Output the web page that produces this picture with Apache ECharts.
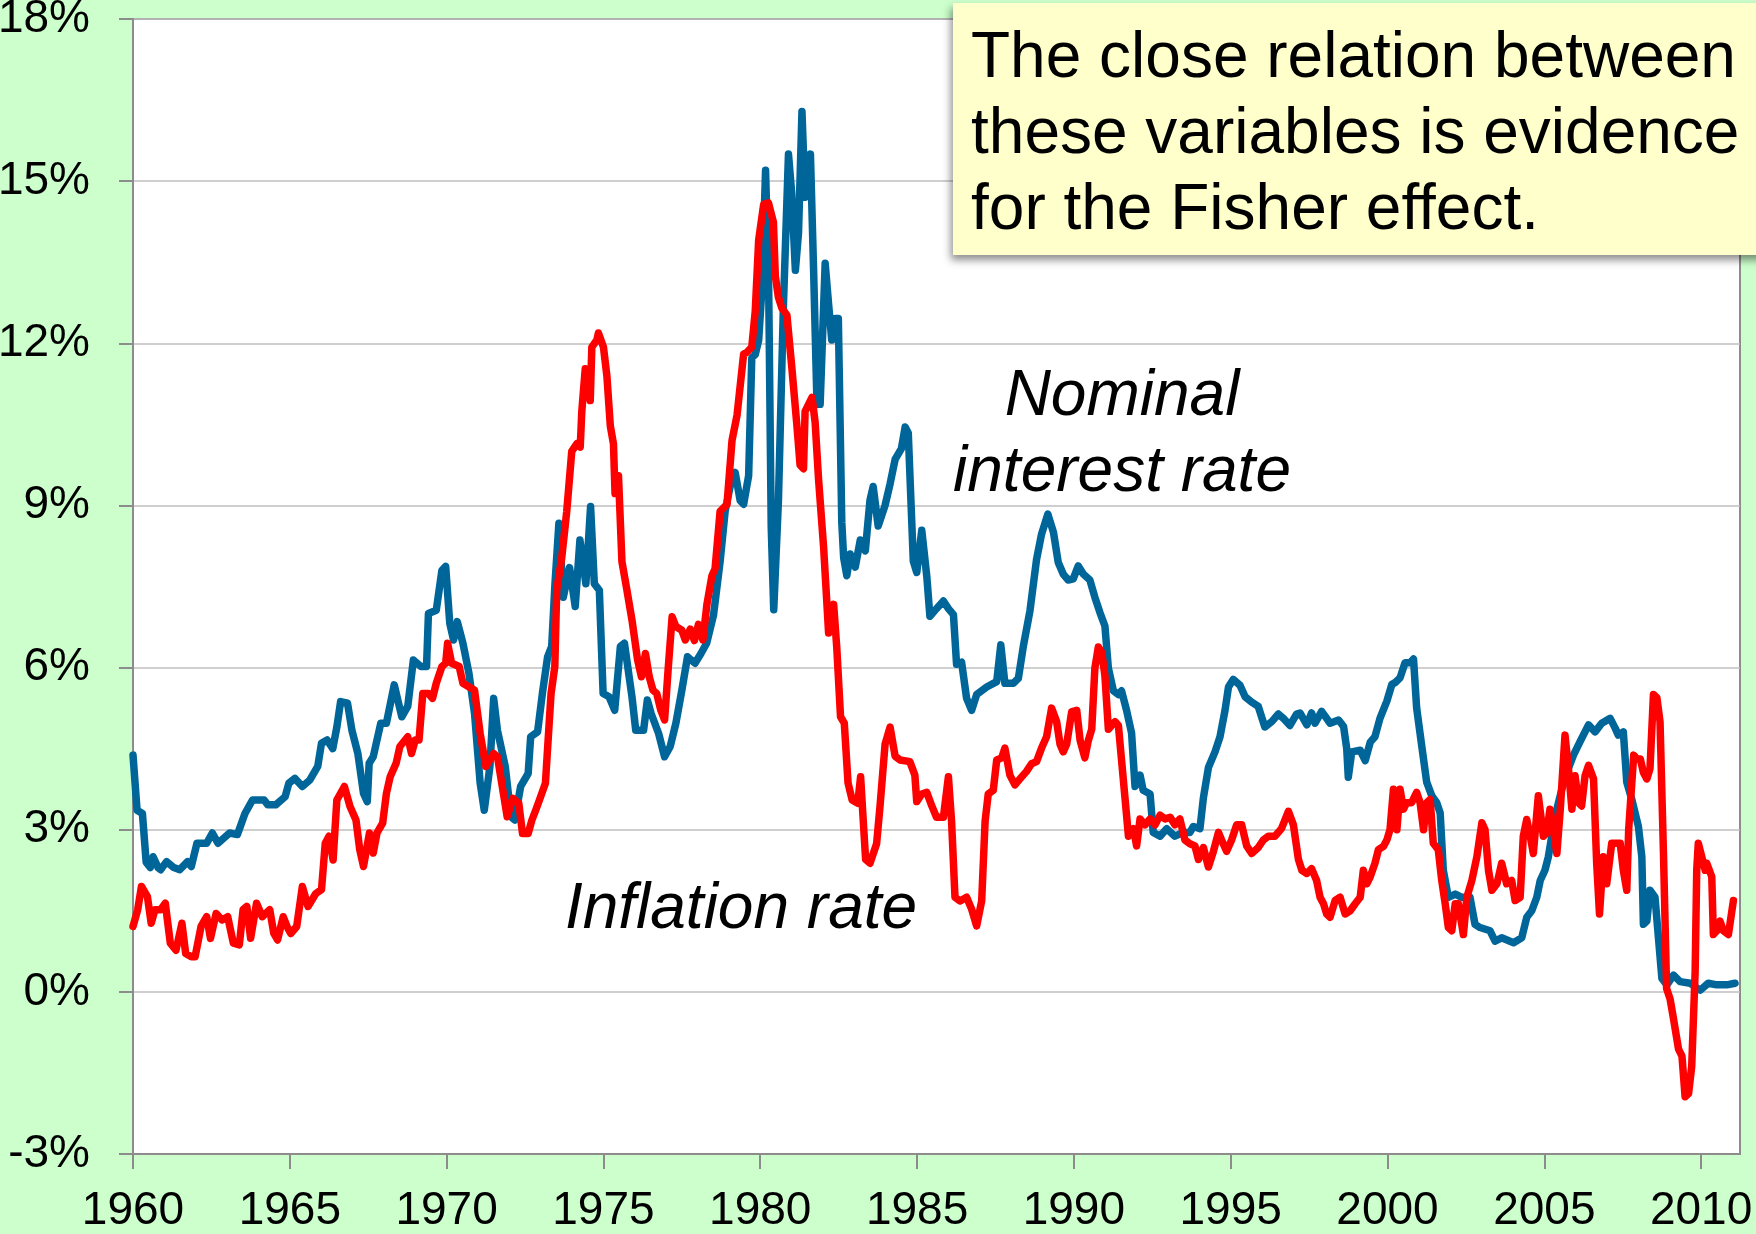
<!DOCTYPE html>
<html>
<head>
<meta charset="utf-8">
<script src="https://cdn.jsdelivr.net/npm/echarts@6/dist/echarts.min.js"></script>
<style>
  html, body { margin: 0; padding: 0; background: #ccffcc; }
  #chart { width: 1756px; height: 1234px; }
</style>
</head>
<body>
<div id="chart"></div>
<script>
// tick labels
const yearTicks = [1960, 1965, 1970, 1975, 1980, 1985, 1990, 1995, 2000, 2005, 2010];

// nominal interest rate, [year, percent]
const nominalRate = [
  [1960.0, 4.38], [1960.13, 3.36], [1960.3, 3.3], [1960.42, 2.4], [1960.55, 2.3], [1960.64, 2.5],
  [1960.8, 2.3], [1960.88, 2.26], [1961.07, 2.41], [1961.3, 2.3], [1961.49, 2.26], [1961.74, 2.41],
  [1961.86, 2.32], [1962.04, 2.75], [1962.35, 2.75], [1962.53, 2.94], [1962.71, 2.75], [1963.08, 2.94],
  [1963.33, 2.91], [1963.57, 3.3], [1963.81, 3.55], [1964.18, 3.55], [1964.3, 3.46], [1964.55, 3.46],
  [1964.85, 3.61], [1964.97, 3.86], [1965.16, 3.95], [1965.4, 3.8], [1965.64, 3.92], [1965.89, 4.17],
  [1966.01, 4.6], [1966.19, 4.66], [1966.37, 4.5], [1966.5, 4.9], [1966.62, 5.37], [1966.84, 5.34],
  [1966.98, 4.84], [1967.17, 4.41], [1967.35, 3.67], [1967.47, 3.52], [1967.53, 4.23], [1967.66, 4.35],
  [1967.9, 4.97], [1968.08, 4.97], [1968.33, 5.68], [1968.57, 5.09], [1968.76, 5.28], [1968.94, 6.14],
  [1969.18, 6.02], [1969.36, 6.02], [1969.42, 7.0], [1969.67, 7.06], [1969.85, 7.8], [1969.97, 7.87],
  [1970.1, 6.82], [1970.22, 6.51], [1970.34, 6.85], [1970.52, 6.45], [1970.71, 5.9], [1970.89, 5.15],
  [1971.07, 3.86], [1971.2, 3.36], [1971.38, 4.17], [1971.5, 5.43], [1971.62, 4.84], [1971.87, 4.17],
  [1972.05, 3.24], [1972.17, 3.18], [1972.36, 3.8], [1972.6, 4.04], [1972.68, 4.72], [1972.9, 4.81],
  [1973.06, 5.55], [1973.22, 6.2], [1973.35, 6.39], [1973.45, 7.5], [1973.58, 8.67], [1973.72, 7.3],
  [1973.92, 7.85], [1974.1, 7.13], [1974.25, 8.36], [1974.44, 7.55], [1974.59, 8.98], [1974.71, 7.55],
  [1974.87, 7.43], [1974.99, 5.52], [1975.18, 5.46], [1975.36, 5.21], [1975.54, 6.39], [1975.67, 6.45],
  [1975.91, 5.46], [1976.03, 4.84], [1976.28, 4.84], [1976.4, 5.4], [1976.52, 5.15], [1976.76, 4.78],
  [1976.95, 4.35], [1977.13, 4.54], [1977.31, 4.97], [1977.5, 5.58], [1977.68, 6.2], [1977.92, 6.08],
  [1978.11, 6.26], [1978.29, 6.45], [1978.51, 6.97], [1978.72, 7.96], [1978.88, 8.89], [1979.04, 9.35],
  [1979.2, 9.61], [1979.36, 9.09], [1979.47, 9.02], [1979.63, 9.55], [1979.73, 11.73], [1979.84, 11.79],
  [1979.95, 12.06], [1980.05, 12.98], [1980.17, 15.2], [1980.27, 13.0], [1980.35, 8.6], [1980.43, 7.07],
  [1980.58, 9.09], [1980.74, 12.72], [1980.9, 15.5], [1981.0, 14.8], [1981.12, 13.35], [1981.22, 14.04],
  [1981.33, 16.29], [1981.43, 14.7], [1981.6, 15.5], [1981.7, 13.38], [1981.81, 10.87], [1981.91, 10.87],
  [1982.07, 13.48], [1982.18, 12.72], [1982.28, 12.06], [1982.39, 12.46], [1982.49, 12.46], [1982.6, 8.69],
  [1982.66, 8.03], [1982.76, 7.7], [1982.87, 8.1], [1983.03, 7.86], [1983.19, 8.36], [1983.35, 8.16],
  [1983.5, 9.1], [1983.6, 9.35], [1983.76, 8.62], [1983.98, 9.0], [1984.14, 9.4], [1984.3, 9.85],
  [1984.5, 10.05], [1984.62, 10.45], [1984.72, 10.34], [1984.88, 7.97], [1984.99, 7.76], [1985.15, 8.54],
  [1985.31, 7.69], [1985.41, 6.95], [1985.62, 7.09], [1985.84, 7.23], [1986.0, 7.09], [1986.16, 6.98],
  [1986.26, 6.06], [1986.42, 6.1], [1986.58, 5.43], [1986.74, 5.21], [1986.9, 5.5], [1987.22, 5.64],
  [1987.54, 5.74], [1987.67, 6.42], [1987.8, 5.71], [1988.07, 5.71], [1988.23, 5.8], [1988.39, 6.4],
  [1988.6, 7.05], [1988.81, 8.0], [1988.97, 8.47], [1989.17, 8.84], [1989.35, 8.5], [1989.5, 7.95],
  [1989.66, 7.73], [1989.82, 7.62], [1989.98, 7.64], [1990.14, 7.88], [1990.3, 7.73], [1990.51, 7.62],
  [1990.67, 7.3], [1990.83, 7.02], [1990.99, 6.77], [1991.1, 5.99], [1991.26, 5.57], [1991.42, 5.5],
  [1991.52, 5.57], [1991.68, 5.21], [1991.84, 4.79], [1991.95, 3.8], [1992.11, 4.01], [1992.21, 3.73],
  [1992.43, 3.66], [1992.53, 2.95], [1992.75, 2.88], [1992.96, 3.02], [1993.22, 2.88], [1993.49, 2.95],
  [1993.7, 2.95], [1993.81, 3.06], [1994.02, 3.02], [1994.13, 3.59], [1994.29, 4.15], [1994.5, 4.44],
  [1994.66, 4.72], [1994.82, 5.21], [1994.93, 5.64], [1995.08, 5.78], [1995.3, 5.67], [1995.46, 5.46],
  [1995.67, 5.36], [1995.88, 5.28], [1996.09, 4.9], [1996.31, 5.0], [1996.52, 5.14], [1996.7, 5.05],
  [1996.89, 4.93], [1997.1, 5.14], [1997.21, 5.16], [1997.43, 4.94], [1997.58, 5.16], [1997.69, 4.97],
  [1997.9, 5.19], [1998.17, 4.97], [1998.44, 5.03], [1998.6, 4.91], [1998.7, 4.5], [1998.75, 3.97],
  [1998.86, 4.44], [1999.13, 4.47], [1999.29, 4.28], [1999.45, 4.62], [1999.6, 4.72], [1999.76, 5.06],
  [1999.98, 5.38], [2000.14, 5.69], [2000.24, 5.72], [2000.4, 5.81], [2000.56, 6.09], [2000.72, 6.09],
  [2000.83, 6.16], [2000.93, 5.25], [2001.09, 4.56], [2001.25, 3.88], [2001.41, 3.63], [2001.57, 3.5],
  [2001.68, 3.31], [2001.78, 2.25], [2001.94, 1.75], [2002.16, 1.81], [2002.37, 1.75], [2002.63, 1.75],
  [2002.79, 1.25], [2002.95, 1.19], [2003.27, 1.13], [2003.43, 0.94], [2003.64, 1.0], [2004.02, 0.91],
  [2004.28, 1.0], [2004.44, 1.38], [2004.6, 1.5], [2004.76, 1.75], [2004.87, 2.06], [2005.02, 2.25],
  [2005.13, 2.5], [2005.29, 3.06], [2005.4, 3.38], [2005.56, 3.75], [2005.72, 4.06], [2005.93, 4.38],
  [2006.14, 4.63], [2006.41, 4.94], [2006.62, 4.81], [2006.83, 4.97], [2007.1, 5.06], [2007.26, 4.88],
  [2007.36, 4.75], [2007.52, 4.81], [2007.63, 3.88], [2007.79, 3.56], [2008.0, 3.06], [2008.11, 2.5],
  [2008.16, 1.25], [2008.27, 1.31], [2008.37, 1.88], [2008.53, 1.75], [2008.64, 1.0], [2008.75, 0.25],
  [2008.91, 0.13], [2009.12, 0.31], [2009.33, 0.19], [2009.65, 0.16], [2009.97, 0.03], [2010.23, 0.16],
  [2010.5, 0.13], [2010.82, 0.13], [2011.08, 0.16]
];

// inflation rate, [year, percent]
const inflationRate = [
  [1960.0, 1.21], [1960.15, 1.52], [1960.27, 1.95], [1960.46, 1.76], [1960.58, 1.27], [1960.7, 1.52],
  [1960.88, 1.52], [1961.03, 1.64], [1961.19, 0.9], [1961.37, 0.77], [1961.56, 1.27], [1961.68, 0.71],
  [1961.86, 0.65], [1961.98, 0.65], [1962.17, 1.21], [1962.35, 1.39], [1962.47, 0.99], [1962.65, 1.45],
  [1962.84, 1.33], [1963.02, 1.39], [1963.2, 0.9], [1963.39, 0.87], [1963.51, 1.52], [1963.63, 1.58],
  [1963.75, 0.99], [1963.94, 1.64], [1964.12, 1.39], [1964.36, 1.52], [1964.49, 1.08], [1964.61, 0.96],
  [1964.79, 1.39], [1964.91, 1.21], [1965.03, 1.08], [1965.22, 1.21], [1965.4, 1.95], [1965.58, 1.58],
  [1965.83, 1.82], [1966.01, 1.89], [1966.13, 2.75], [1966.25, 2.88], [1966.38, 2.44], [1966.5, 3.55],
  [1966.74, 3.8], [1966.92, 3.43], [1967.11, 3.18], [1967.23, 2.63], [1967.35, 2.32], [1967.54, 2.94],
  [1967.66, 2.57], [1967.78, 2.94], [1967.96, 3.12], [1968.08, 3.67], [1968.2, 3.98], [1968.39, 4.23],
  [1968.51, 4.54], [1968.76, 4.72], [1968.88, 4.41], [1969.0, 4.66], [1969.12, 4.66], [1969.24, 5.52],
  [1969.42, 5.52], [1969.55, 5.43], [1969.67, 5.71], [1969.85, 6.02], [1969.97, 6.08], [1970.03, 6.45],
  [1970.16, 6.08], [1970.4, 6.02], [1970.52, 5.71], [1970.89, 5.58], [1971.07, 4.78], [1971.25, 4.17],
  [1971.5, 4.41], [1971.62, 4.35], [1971.81, 3.67], [1971.93, 3.24], [1972.11, 3.58], [1972.3, 3.49],
  [1972.42, 2.93], [1972.6, 2.93], [1972.72, 3.18], [1972.84, 3.36], [1972.96, 3.55], [1973.15, 3.86],
  [1973.27, 4.97], [1973.33, 5.52], [1973.45, 6.02], [1973.51, 7.43], [1973.67, 8.03], [1973.83, 8.89],
  [1973.99, 10.0], [1974.15, 10.14], [1974.26, 10.08], [1974.31, 10.74], [1974.42, 11.53], [1974.58, 10.94],
  [1974.63, 11.93], [1974.79, 12.06], [1974.84, 12.19], [1975.0, 11.93], [1975.11, 11.4], [1975.22, 10.47],
  [1975.32, 10.14], [1975.37, 9.22], [1975.48, 9.55], [1975.59, 7.96], [1975.75, 7.43], [1975.91, 6.88],
  [1976.09, 6.14], [1976.21, 5.83], [1976.34, 6.26], [1976.46, 5.83], [1976.58, 5.58], [1976.7, 5.52],
  [1976.83, 5.21], [1976.95, 5.03], [1977.07, 6.02], [1977.19, 6.94], [1977.31, 6.76], [1977.5, 6.69],
  [1977.61, 6.51], [1977.77, 6.71], [1977.9, 6.5], [1978.03, 6.8], [1978.17, 6.51], [1978.3, 7.17],
  [1978.46, 7.7], [1978.56, 7.83], [1978.72, 8.89], [1978.94, 9.02], [1979.1, 10.2], [1979.26, 10.67],
  [1979.47, 11.8], [1979.57, 11.83], [1979.73, 11.93], [1979.84, 12.59], [1979.95, 13.91], [1980.11, 14.57],
  [1980.26, 14.6], [1980.42, 14.24], [1980.48, 13.25], [1980.58, 12.85], [1980.69, 12.65], [1980.85, 12.52],
  [1981.01, 11.53], [1981.17, 10.47], [1981.27, 9.75], [1981.38, 9.68], [1981.43, 10.74], [1981.54, 10.87],
  [1981.65, 11.0], [1981.75, 10.54], [1981.86, 9.48], [1982.02, 8.23], [1982.18, 6.64], [1982.34, 7.17],
  [1982.44, 6.37], [1982.56, 5.09], [1982.68, 4.97], [1982.8, 3.86], [1982.93, 3.55], [1983.11, 3.49],
  [1983.2, 3.98], [1983.3, 3.02], [1983.36, 2.45], [1983.5, 2.38], [1983.71, 2.74], [1983.82, 3.44],
  [1983.98, 4.58], [1984.14, 4.9], [1984.3, 4.36], [1984.46, 4.29], [1984.77, 4.26], [1984.93, 4.01],
  [1984.99, 3.52], [1985.15, 3.66], [1985.31, 3.69], [1985.47, 3.44], [1985.62, 3.23], [1985.84, 3.23],
  [1986.0, 3.98], [1986.1, 3.16], [1986.21, 1.75], [1986.37, 1.68], [1986.58, 1.75], [1986.74, 1.53],
  [1986.9, 1.22], [1987.06, 1.68], [1987.17, 3.16], [1987.27, 3.66], [1987.43, 3.73], [1987.54, 4.29],
  [1987.7, 4.33], [1987.8, 4.51], [1987.96, 4.01], [1988.12, 3.83], [1988.28, 3.94], [1988.49, 4.08],
  [1988.65, 4.22], [1988.81, 4.26], [1988.97, 4.51], [1989.13, 4.72], [1989.29, 5.25], [1989.45, 5.0],
  [1989.56, 4.58], [1989.66, 4.44], [1989.77, 4.58], [1989.93, 5.18], [1990.09, 5.21], [1990.2, 4.65],
  [1990.35, 4.33], [1990.46, 4.65], [1990.57, 4.86], [1990.67, 5.99], [1990.78, 6.38], [1990.89, 6.28],
  [1990.99, 5.85], [1991.1, 4.86], [1991.31, 5.0], [1991.42, 4.93], [1991.52, 4.29], [1991.63, 3.59],
  [1991.74, 2.88], [1991.9, 3.02], [1992.0, 2.7], [1992.11, 3.2], [1992.27, 3.09], [1992.43, 3.2],
  [1992.59, 3.09], [1992.75, 3.27], [1992.91, 3.2], [1993.07, 3.23], [1993.22, 3.09], [1993.38, 3.2],
  [1993.54, 2.81], [1993.7, 2.74], [1993.86, 2.7], [1993.97, 2.45], [1994.13, 2.67], [1994.29, 2.31],
  [1994.45, 2.6], [1994.61, 2.95], [1994.71, 2.81], [1994.87, 2.6], [1995.03, 2.81], [1995.19, 3.09],
  [1995.35, 3.09], [1995.51, 2.7], [1995.67, 2.56], [1995.88, 2.67], [1996.04, 2.81], [1996.2, 2.88],
  [1996.41, 2.88], [1996.62, 3.02], [1996.84, 3.34], [1997.0, 3.09], [1997.16, 2.45], [1997.27, 2.25],
  [1997.43, 2.19], [1997.58, 2.28], [1997.74, 2.06], [1997.85, 1.75], [1997.96, 1.63], [1998.06, 1.44],
  [1998.17, 1.38], [1998.33, 1.69], [1998.49, 1.75], [1998.65, 1.44], [1998.81, 1.5], [1998.97, 1.63],
  [1999.13, 1.75], [1999.23, 2.25], [1999.34, 2.0], [1999.45, 2.13], [1999.6, 2.38], [1999.71, 2.63],
  [1999.87, 2.69], [1999.98, 2.81], [2000.08, 3.0], [2000.19, 3.75], [2000.3, 3.0], [2000.4, 3.75],
  [2000.51, 3.38], [2000.61, 3.5], [2000.77, 3.5], [2000.93, 3.69], [2001.04, 3.5], [2001.15, 3.0],
  [2001.25, 3.5], [2001.36, 3.56], [2001.46, 2.75], [2001.62, 2.63], [2001.73, 2.06], [2001.84, 1.63],
  [2001.94, 1.19], [2002.05, 1.13], [2002.16, 1.63], [2002.26, 1.63], [2002.42, 1.06], [2002.53, 1.75],
  [2002.69, 2.06], [2002.85, 2.5], [2003.01, 3.13], [2003.11, 3.0], [2003.22, 2.25], [2003.33, 1.88],
  [2003.49, 2.0], [2003.64, 2.38], [2003.8, 2.0], [2003.96, 2.06], [2004.07, 1.69], [2004.23, 1.75],
  [2004.33, 2.88], [2004.44, 3.19], [2004.55, 2.88], [2004.65, 2.56], [2004.81, 3.63], [2004.97, 2.88],
  [2005.08, 2.94], [2005.18, 3.38], [2005.29, 3.0], [2005.4, 2.56], [2005.51, 3.38], [2005.66, 4.75],
  [2005.77, 4.13], [2005.88, 3.38], [2005.98, 4.0], [2006.09, 3.5], [2006.19, 3.44], [2006.3, 4.0],
  [2006.41, 4.19], [2006.57, 3.94], [2006.67, 2.38], [2006.76, 1.44], [2006.88, 2.5], [2006.99, 2.0],
  [2007.15, 2.75], [2007.31, 2.75], [2007.42, 2.75], [2007.52, 2.25], [2007.63, 1.88], [2007.69, 3.0],
  [2007.85, 4.38], [2007.95, 4.31], [2008.06, 4.31], [2008.16, 4.06], [2008.27, 3.94], [2008.37, 4.13],
  [2008.48, 5.5], [2008.59, 5.44], [2008.69, 5.0], [2008.8, 2.56], [2008.9, 0.06], [2009.01, -0.13],
  [2009.12, -0.5], [2009.28, -1.06], [2009.39, -1.19], [2009.49, -1.94], [2009.6, -1.88], [2009.7, -1.38],
  [2009.81, 0.38], [2009.86, 2.25], [2009.91, 2.75], [2010.02, 2.5], [2010.13, 2.25], [2010.18, 2.38],
  [2010.34, 2.13], [2010.39, 1.06], [2010.5, 1.13], [2010.6, 1.31], [2010.71, 1.13], [2010.87, 1.06],
  [2011.03, 1.69]
];

const FONT = '"Liberation Sans", Arial, sans-serif';

const chart = echarts.init(document.getElementById('chart'));

chart.setOption({
  backgroundColor: '#ccffcc',
  animation: false,
  grid: {
    left: 133, top: 19, right: 16, bottom: 80,
    outerBoundsMode: 'none',
    containLabel: false,
    show: true,
    backgroundColor: '#ffffff',
    borderColor: '#8c8c8c',
    borderWidth: 2
  },
  xAxis: {
    type: 'value',
    min: 1960,
    max: 2011.24,
    axisLine: { onZero: false, lineStyle: { color: '#8c8c8c', width: 2 } },
    axisTick: { customValues: yearTicks, length: 15, lineStyle: { color: '#8c8c8c', width: 2 } },
    axisLabel: {
      customValues: yearTicks,
      fontSize: 46, fontFamily: FONT, color: '#000', margin: 34,
      formatter: (v) => String(Math.round(v))
    },
    splitLine: { show: false }
  },
  yAxis: {
    type: 'value',
    min: -3, max: 18, interval: 3,
    axisLine: { show: true, lineStyle: { color: '#8c8c8c', width: 2 } },
    axisTick: { show: true, length: 14, lineStyle: { color: '#8c8c8c', width: 2 } },
    axisLabel: {
      fontSize: 46, fontFamily: FONT, color: '#000', margin: 43,
      formatter: '{value}%'
    },
    splitLine: { lineStyle: { color: '#bfbfbf', width: 1.5 } }
  },
  series: [
    {
      name: 'Nominal interest rate',
      type: 'line',
      data: nominalRate,
      showSymbol: false,
      lineStyle: { color: '#006699', width: 7.5, join: 'round', cap: 'round' },
      z: 2
    },
    {
      name: 'Inflation rate',
      type: 'line',
      data: inflationRate,
      showSymbol: false,
      lineStyle: { color: '#ff0000', width: 7.5, join: 'round', cap: 'round' },
      z: 3
    }
  ],
  graphic: [
    {
      type: 'rect',
      shape: { x: 953, y: 3, width: 820, height: 252 },
      style: {
        fill: '#ffffcc',
        shadowBlur: 8,
        shadowOffsetX: -2,
        shadowOffsetY: 5,
        shadowColor: 'rgba(0,0,0,0.45)'
      },
      z: 100
    },
    {
      type: 'text',
      x: 971, y: 21,
      style: {
        text: 'The close relation between\nthese variables is evidence\nfor the Fisher effect.',
        font: '64px ' + FONT,
        lineHeight: 76,
        fill: '#000',
        align: 'left',
        verticalAlign: 'top'
      },
      z: 101
    },
    {
      type: 'text',
      x: 1122, y: 359,
      style: {
        text: 'Nominal\ninterest rate',
        font: 'italic 64px ' + FONT,
        lineHeight: 76,
        fill: '#000',
        align: 'center',
        verticalAlign: 'top'
      },
      z: 101
    },
    {
      type: 'text',
      x: 741, y: 872,
      style: {
        text: 'Inflation rate',
        font: 'italic 64px ' + FONT,
        lineHeight: 76,
        fill: '#000',
        align: 'center',
        verticalAlign: 'top'
      },
      z: 101
    }
  ]
});
</script>
</body>
</html>
